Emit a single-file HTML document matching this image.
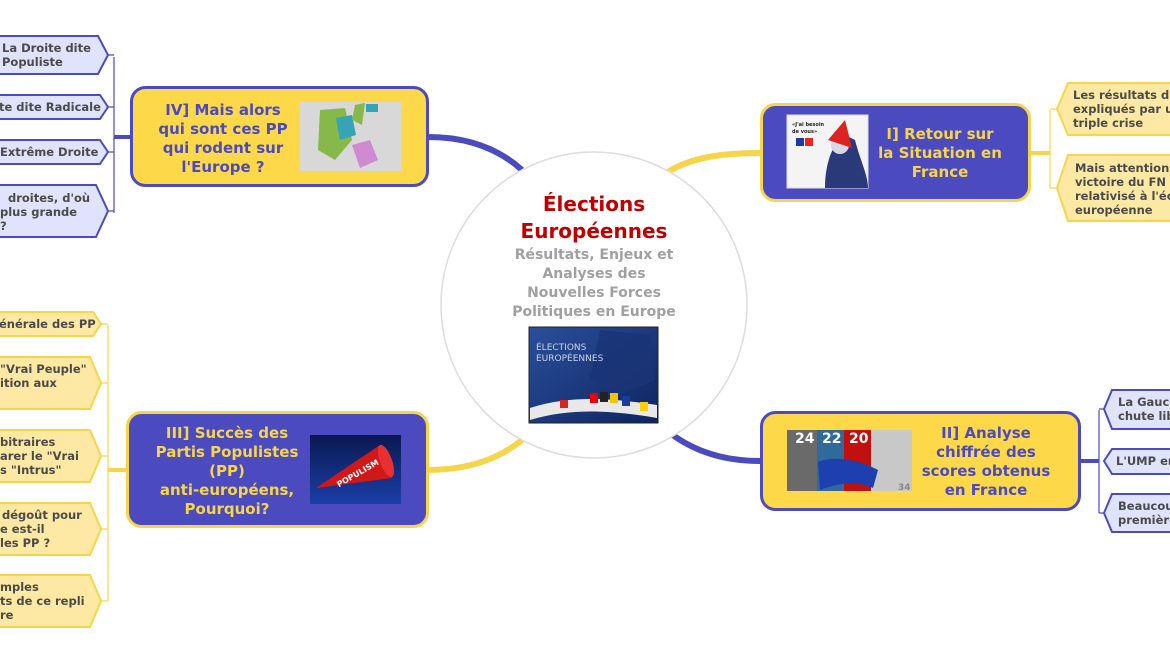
<!DOCTYPE html>
<html><head><meta charset="utf-8"><style>
html,body{margin:0;padding:0;background:#fff;width:1170px;height:663px;overflow:hidden}
svg{display:block;font-family:"DejaVu Sans","Liberation Sans",sans-serif;font-weight:bold}
.lf{font-size:11.5px;fill:#4a4a4a}
</style></head><body>
<svg width="1170" height="663" viewBox="0 0 1170 663">
<!-- main connectors -->
<path d="M428,137 C470,137 500,150 522,170" stroke="#4b4bbf" stroke-width="6" fill="none"/>
<path d="M668,172 C690,158 720,153 760,153" stroke="#f7d54a" stroke-width="6" fill="none"/>
<path d="M428,470 C470,470 500,458 522,440" stroke="#f7d54a" stroke-width="6" fill="none"/>
<path d="M670,433 C695,452 725,461 760,461" stroke="#4b4bbf" stroke-width="6" fill="none"/>

<!-- center circle -->
<circle cx="594" cy="305" r="153" fill="#fff" stroke="#ddd" stroke-width="1.5"/>
<text x="594" y="211" text-anchor="middle" font-size="20" fill="#c00000">Élections</text>
<text x="594" y="238" text-anchor="middle" font-size="20" fill="#c00000">Européennes</text>
<g font-size="14" fill="#a0a0a0" text-anchor="middle">
<text x="594" y="259">Résultats, Enjeux et</text>
<text x="594" y="278">Analyses des</text>
<text x="594" y="297">Nouvelles Forces</text>
<text x="594" y="316">Politiques en Europe</text>
</g>
<defs>
<linearGradient id="eu" x1="0" y1="0" x2="1" y2="1"><stop offset="0" stop-color="#2a4f9a"/><stop offset="1" stop-color="#0f2460"/></linearGradient>
<linearGradient id="meg" x1="0" y1="0" x2="0" y2="1"><stop offset="0" stop-color="#0a1850"/><stop offset="1" stop-color="#1b3fa8"/></linearGradient>
</defs>
<rect x="529" y="327" width="129" height="96" fill="url(#eu)" stroke="#222"/>
<path d="M600,330 L650,335 L655,380 L620,395 L590,380 Z" fill="#1a3575" opacity=".8"/>
<text x="536" y="350" font-size="9" font-weight="normal" fill="#c8d4f0">ÉLECTIONS</text>
<text x="536" y="361" font-size="9" font-weight="normal" fill="#c8d4f0">EUROPÉENNES</text>
<path d="M530,408 C570,395 610,398 657,405 L657,418 C610,410 570,408 530,420 Z" fill="#e8e8e8"/>
<rect x="590" y="393" width="8" height="10" fill="#e00"/><rect x="600" y="392" width="8" height="10" fill="#222"/><rect x="610" y="393" width="8" height="10" fill="#f5c400"/><rect x="622" y="396" width="8" height="10" fill="#1c3aa0"/><rect x="560" y="400" width="8" height="8" fill="#d22"/><rect x="640" y="402" width="8" height="9" fill="#ffd000"/>

<!-- IV node -->
<rect x="131.5" y="87.5" width="296" height="98" rx="14" fill="#fdd94a" stroke="#4b4bbf" stroke-width="3"/>
<g font-size="15" fill="#4b4bbf" text-anchor="middle">
<text x="223" y="115">IV] Mais alors</text>
<text x="223" y="134">qui sont ces PP</text>
<text x="223" y="153">qui rodent sur</text>
<text x="223" y="172">l'Europe ?</text>
</g>
<rect x="300" y="102" width="101" height="69" fill="#d8d8d8"/>
<path d="M320,110 L345,108 L352,140 L335,160 L318,150 Z" fill="#86b84a"/>
<path d="M336,118 L352,115 L356,135 L340,140 Z" fill="#35a5b5"/>
<path d="M352,145 L370,140 L378,160 L360,168 Z" fill="#d08ad0"/>
<path d="M355,105 L365,103 L362,125 L352,120 Z" fill="#86b84a"/>
<rect x="366" y="104" width="12" height="8" fill="#35a5b5"/>

<!-- IV leaves -->
<path d="M114,57 V213 M114,137 H131" stroke="#4b4bbf" stroke-width="1.2" fill="none"/>
<path d="M114,137 H131" stroke="#4b4bbf" stroke-width="4"/>
<g fill="#dfe3fc" stroke="#4b4bbf" stroke-width="2">
<path d="M-5,36 H98 L108,55 L98,74 H-5 Z"/>
<path d="M-5,95 H100 L108,107 L100,119 H-5 Z"/>
<path d="M-5,140 H100 L108,152 L100,164 H-5 Z"/>
<path d="M-5,185 H96 L108,211 L96,237 H-5 Z"/>
</g>
<path d="M108,55 H114 M108,107 H114 M108,152 H114 M108,211 H114" stroke="#4b4bbf" stroke-width="1.2"/>
<g class="lf">
<text x="2" y="52">La Droite dite</text><text x="2" y="66">Populiste</text>
<text x="-1" y="111">te dite Radicale</text>
<text x="0" y="156">Extrême Droite</text>
<text x="8" y="202">droites, d'où</text><text x="0" y="216">plus grande</text><text x="0" y="230">?</text>
</g>

<!-- III node -->
<rect x="127.5" y="412.5" width="300" height="114" rx="14" fill="#4b4bbf" stroke="#f7d54a" stroke-width="3"/>
<g font-size="15" fill="#f7d54a" text-anchor="middle">
<text x="227" y="438">III] Succès des</text>
<text x="227" y="457">Partis Populistes</text>
<text x="227" y="476">(PP)</text>
<text x="227" y="495">anti-européens,</text>
<text x="227" y="514">Pourquoi?</text>
</g>
<rect x="310" y="435" width="91" height="69" fill="url(#meg)"/>
<path d="M316,488 L380,445 L392,478 Z" fill="#d01818"/>
<ellipse cx="386" cy="461" rx="6" ry="17" fill="#e83030" transform="rotate(-20 386 461)"/>
<text x="335" y="483" font-size="8" fill="#fff" transform="rotate(-30 345 478)">POPULISM</text>

<!-- III leaves -->
<path d="M108,325 V601" stroke="#f7d54a" stroke-width="1.2"/>
<path d="M108,470 H128" stroke="#f7d54a" stroke-width="4"/>
<g fill="#fde9a3" stroke="#f7d54a" stroke-width="2">
<path d="M-5,312 H93 L101,324 L93,336 H-5 Z"/>
<path d="M-5,357 H90 L101,383 L90,409 H-5 Z"/>
<path d="M-5,430 H90 L101,456 L90,482 H-5 Z"/>
<path d="M-5,503 H90 L101,529 L90,555 H-5 Z"/>
<path d="M-5,575 H90 L101,601 L90,627 H-5 Z"/>
</g>
<path d="M101,324 H108 M101,383 H108 M101,456 H108 M101,529 H108 M101,601 H108" stroke="#f7d54a" stroke-width="1.2"/>
<g class="lf">
<text x="-1" y="328">énérale des PP</text>
<text x="0" y="373">"Vrai Peuple"</text><text x="0" y="387">ition aux</text>
<text x="0" y="446">bitraires</text><text x="0" y="460">arer le "Vrai</text><text x="0" y="474">s "Intrus"</text>
<text x="2" y="519">dégoût pour</text><text x="0" y="533">e est-il</text><text x="0" y="547">les PP ?</text>
<text x="0" y="591">mples</text><text x="0" y="605">ts de ce repli</text><text x="0" y="619">re</text>
</g>

<!-- I node -->
<rect x="761.5" y="104.5" width="268" height="96" rx="14" fill="#4b4bbf" stroke="#f7d54a" stroke-width="3"/>
<g font-size="15" fill="#f7d54a" text-anchor="middle">
<text x="940" y="139">I] Retour sur</text>
<text x="940" y="158">la Situation en</text>
<text x="940" y="177">France</text>
</g>
<rect x="787" y="115" width="81" height="73" fill="#f4f4f4" stroke="#ddd"/>
<path d="M825,188 C825,160 835,140 845,135 L855,140 C860,160 868,175 868,188 Z" fill="#2a3a78"/>
<circle cx="840" cy="145" r="9" fill="#d8d8e8"/>
<path d="M828,140 L845,120 L852,148 Z" fill="#d22"/>
<rect x="796" y="138" width="8" height="8" fill="#1c3aa0"/><rect x="805" y="138" width="8" height="8" fill="#e22"/>
<text x="792" y="126" font-size="5" fill="#222">«J'ai besoin</text><text x="792" y="133" font-size="5" fill="#222">de vous»</text>

<!-- I leaves -->
<path d="M1030,153 H1050" stroke="#f7d54a" stroke-width="4"/>
<path d="M1050,110 V188" stroke="#f7d54a" stroke-width="1.2"/>
<g fill="#fde9a3" stroke="#f7d54a" stroke-width="2">
<path d="M1175,83 H1068 L1057,109 L1068,135 H1175 Z"/>
<path d="M1175,155 H1068 L1057,188 L1068,221 H1175 Z"/>
</g>
<path d="M1050,109 H1057 M1050,188 H1057" stroke="#f7d54a" stroke-width="1.2"/>
<g class="lf">
<text x="1073" y="99">Les résultats du</text><text x="1073" y="113">expliqués par u</text><text x="1073" y="127">triple crise</text>
<text x="1075" y="172">Mais attention,</text><text x="1075" y="186">victoire du FN e</text><text x="1075" y="200">relativisé à l'éc</text><text x="1075" y="214">européenne</text>
</g>

<!-- II node -->
<rect x="761.5" y="412.5" width="318" height="97" rx="14" fill="#fdd94a" stroke="#4b4bbf" stroke-width="3"/>
<g font-size="15" fill="#4b4bbf" text-anchor="middle">
<text x="986" y="438">II] Analyse</text>
<text x="986" y="457">chiffrée des</text>
<text x="986" y="476">scores obtenus</text>
<text x="986" y="495">en France</text>
</g>
<rect x="787" y="430" width="30" height="61" fill="#6a6a6a"/>
<rect x="817" y="430" width="27" height="61" fill="#2f6a9a"/>
<rect x="844" y="430" width="27" height="61" fill="#c01010"/>
<rect x="871" y="430" width="41" height="61" fill="#c8c8c8"/>
<text x="795" y="443" font-size="14" fill="#fff">24</text>
<text x="822" y="443" font-size="14" fill="#fff">22</text>
<text x="849" y="443" font-size="14" fill="#fff">20</text>
<text x="898" y="490" font-size="9" fill="#888">34</text>
<path d="M818,462 C835,455 860,460 878,470 L873,488 C855,480 835,484 820,490 Z" fill="#1d3fb0"/>

<!-- II leaves -->
<path d="M1080,461 H1099" stroke="#4b4bbf" stroke-width="4"/>
<path d="M1099,410 V513" stroke="#4b4bbf" stroke-width="1.2"/>
<g fill="#dfe3fc" stroke="#4b4bbf" stroke-width="2">
<path d="M1175,390 H1112 L1104,409 L1112,429 H1175 Z"/>
<path d="M1175,449 H1112 L1104,461 L1112,474 H1175 Z"/>
<path d="M1175,494 H1112 L1104,513 L1112,532 H1175 Z"/>
</g>
<path d="M1099,409 H1104 M1099,513 H1104" stroke="#4b4bbf" stroke-width="1.2"/>
<g class="lf">
<text x="1118" y="406">La Gauch</text><text x="1118" y="420">chute lib</text>
<text x="1116" y="465">L'UMP en</text>
<text x="1118" y="510">Beaucou</text><text x="1118" y="524">première</text>
</g>
</svg>
</body></html>
